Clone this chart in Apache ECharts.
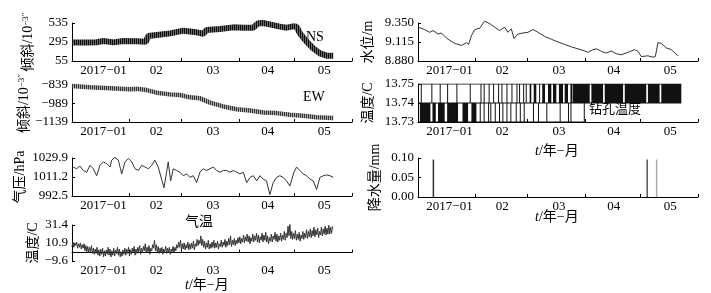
<!DOCTYPE html>
<html>
<head>
<meta charset="utf-8">
<script src="https://cdn.jsdelivr.net/npm/echarts@6/dist/echarts.min.js"></script>
<style>
  html, body { margin: 0; padding: 0; background: #fff; }
  #chart { width: 711px; height: 293px; }
</style>
</head>
<body>
<div id="chart"></div>
<script>
// x is days since 2017-01-01
const monthLabels = ['2017−01', '02', '03', '04', '05']
const monthLabelDays = [17, 45.5, 76, 105.5, 136]
const monthTickDays = [31, 59, 90, 120, 151]

// tilt NS (10^-3 ″)
const nsDays = [0, 7.9, 13.3, 16.9, 22.3, 27.7, 34.9, 39.9, 41.1, 45.6, 52.9, 60, 67.2, 70.8, 72.6, 79.8, 87, 92.3, 97.7, 100.4, 103.1, 106.7, 112.1, 115.7, 119.3, 121.1, 122.9, 126.5, 130.1, 133.7, 137.3, 140.9]
const nsValues = [290, 290, 292, 307, 290, 307, 303, 299, 370, 383, 404, 438, 417, 400, 446, 459, 480, 476, 476, 531, 535, 518, 489, 476, 493, 489, 404, 299, 215, 152, 122, 122]
const nsTicks = [55, 295, 535]

// tilt EW
const ewDays = [0, 9.7, 20.5, 31.3, 34.9, 40.3, 45.6, 52.8, 58.2, 63.6, 69, 74.4, 81.6, 88.8, 96, 103.1, 110.3, 117.5, 124.7, 131.9, 140.9]
const ewValues = [-847, -858, -866, -874, -870, -880, -901, -915, -920, -939, -947, -982, -1013, -1035, -1046, -1062, -1067, -1081, -1089, -1100, -1107]
const ewTicks = [-1139, -989, -839]

// air pressure (hPa)
const presDays = [0.7, 2.5, 4.3, 6.1, 7.9, 9.7, 11.5, 13.3, 15.1, 16.9, 18.7, 20.5, 21.4, 23.2, 25, 26.8, 28.6, 30.4, 32.2, 34, 35.8, 37.6, 39.4, 41.2, 43, 44.7, 46.5, 48.3, 49.6, 51, 51.9, 53.2, 54.6, 56.4, 58.2, 60, 61.8, 63.6, 65.4, 67.2, 69, 70.8, 72.6, 74.4, 76.2, 78, 79.8, 81.6, 83.4, 85.2, 87, 88.8, 90.6, 92.4, 94.2, 96, 97.8, 99.6, 101.4, 103.1, 104.9, 106.7, 108.5, 110.3, 112.1, 113.9, 115.7, 117.5, 118.4, 119.7, 121.1, 122.9, 124.7, 126.5, 128.3, 130.1, 131.9, 133.7, 135.5, 137.3, 139.1, 140.9]
const presValues = [1021.0, 1019.3, 1022.0, 1017.6, 1015.9, 1022.7, 1019.3, 1012.5, 1022.7, 1026.1, 1024.4, 1021.0, 1027.8, 1030.5, 1027.8, 1014.2, 1026.1, 1029.5, 1026.1, 1019.3, 1017.6, 1022.7, 1021.0, 1019.3, 1022.7, 1027.8, 1021.0, 1009.1, 1000.6, 1015.9, 1026.1, 1007.4, 1019.3, 1017.6, 1015.9, 1012.5, 1014.2, 1010.8, 1012.5, 1005.7, 1015.9, 1019.3, 1017.6, 1019.3, 1021.0, 1017.6, 1015.9, 1017.6, 1017.6, 1015.9, 1017.6, 1015.9, 1014.2, 1015.9, 1005.7, 1010.8, 1012.5, 1007.4, 1012.5, 1009.1, 1007.4, 993.8, 1005.7, 1010.8, 1012.5, 1010.8, 1007.4, 1002.3, 1000.6, 1015.9, 1021.0, 1017.6, 1014.2, 1012.5, 1009.1, 1007.4, 998.9, 1010.8, 1012.5, 1013.2, 1012.5, 1010.8]
const presTicks = [992.5, 1011.2, 1029.9]

// air temperature (C): daily low and high, from day 0
const tempLow = [7, 6, 8, 5, 6, 4, 5, 2, 1, 0, 1, -1, -2, -1, -3, -4, -2, -5, -4, -2, -3, -5, -3, -4, -1, -3, -5, -4, -2, -3, -1, -4, -2, 0, -3, -1, 1, -2, 0, 2, 0, 1, -2, 2, 5, 2, 0, -1, 0, -2, 0, -1, 0, -2, 1, 0, 2, 5, 6, 3, 4, 3, 5, 3, 4, 5, 3, 7, 8, 10, 8, 6, 4, 6, 4, 5, 6, 5, 6, 4, 7, 6, 8, 6, 8, 9, 7, 9, 8, 10, 11, 10, 12, 11, 13, 12, 10, 13, 12, 14, 12, 11, 14, 12, 14, 12, 10, 13, 12, 15, 13, 12, 14, 13, 15, 14, 17, 19, 16, 15, 16, 14, 15, 13, 16, 15, 17, 16, 18, 17, 19, 18, 20, 17, 20, 19, 21, 20, 21, 21, 22]
const tempHigh = [12, 11, 12, 10, 11, 9, 10, 8, 7, 6, 8, 5, 4, 6, 3, 4, 5, 2, 3, 6, 4, 2, 5, 3, 6, 4, 1, 3, 5, 4, 6, 3, 5, 7, 4, 6, 8, 5, 7, 10, 6, 8, 5, 9, 14, 9, 7, 5, 6, 4, 7, 5, 6, 4, 7, 6, 9, 12, 14, 10, 11, 9, 12, 10, 11, 13, 10, 15, 14, 19, 15, 13, 11, 14, 10, 12, 14, 11, 13, 10, 14, 12, 15, 13, 16, 19, 14, 16, 14, 17, 18, 16, 20, 18, 21, 19, 17, 21, 19, 22, 20, 18, 22, 20, 23, 19, 17, 21, 19, 23, 21, 19, 22, 20, 24, 22, 30, 33, 24, 22, 25, 21, 23, 20, 24, 22, 26, 24, 27, 25, 29, 26, 28, 24, 29, 27, 30, 28, 31, 29, 30]
const tempTicks = [-9.6, 10.9, 31.4]

// water level (m)
const waterDays = [0, 3.6, 6.3, 8.1, 10.8, 12.6, 14.4, 16.2, 19.8, 23.4, 26.1, 27.3, 28.8, 30.6, 33.3, 35.9, 38.7, 41.3, 44, 46.7, 48.5, 50.3, 51.8, 53.9, 56.6, 59.3, 62, 64.7, 68.3, 71.9, 75.5, 79.1, 82.7, 86.3, 89, 91.7, 94.4, 96.2, 98.9, 101.5, 104.2, 106.9, 109.6, 113.2, 116.8, 118.6, 120.4, 124, 126.7, 128, 129.4, 131.2, 133.9, 136.6, 140.2]
const waterValues = [9.299, 9.269, 9.235, 9.256, 9.214, 9.226, 9.184, 9.149, 9.098, 9.072, 9.107, 9.085, 9.192, 9.269, 9.286, 9.372, 9.342, 9.299, 9.256, 9.299, 9.235, 9.278, 9.158, 9.214, 9.226, 9.235, 9.269, 9.235, 9.184, 9.149, 9.115, 9.085, 9.055, 9.03, 9.012, 8.987, 9.021, 9.03, 8.999, 8.978, 9.004, 8.97, 8.957, 8.987, 9.021, 8.999, 8.935, 8.944, 8.927, 8.935, 9.107, 9.098, 9.042, 9.021, 8.944]
const waterTicks = [8.88, 9.115, 9.35]

// borehole temperature (C): runs of days spent at each reading
const boreLevels = [13.73, 13.74, 13.75]
const boreLevelEnd = [89.4, 142, 142]
const boreLowRuns = [[1, 6.7], [7.8, 9.6], [10.8, 14.4], [15.7, 21.6], [24, 27], [28.8, 31.5], [33.3, 33.3], [35.4, 35.4], [37.8, 37.8], [39, 39], [41.4, 41.4], [43.7, 43.7], [45.5, 45.5], [47.7, 47.7], [49.8, 49.8], [52.7, 52.7], [54.9, 54.9], [57, 57], [62, 62], [64.7, 64.7], [69.2, 69.2], [76.4, 76.4], [80.9, 80.9], [82.2, 82.2], [89.4, 89.4]]
const boreHighRuns = [[1.5, 1.5], [7.2, 7.2], [11.7, 11.7], [15.7, 15.7], [20.7, 20.7], [27.9, 27.9], [33.7, 33.7], [35.4, 35.4], [38.1, 38.1], [40.5, 40.5], [43.2, 43.2], [45, 45], [47.7, 47.7], [50.4, 50.4], [53.1, 53.1], [54.5, 54.5], [56.7, 56.7], [58.1, 58.1], [60.2, 61.1], [62.4, 63.8], [65.3, 65.3], [67, 68.5], [70.1, 71.9], [72.8, 74.6], [76, 78.2], [79.1, 80.9], [82.2, 83.3], [83.6, 92.6], [93.5, 99.8], [100.7, 110.6], [111.5, 123.1], [124, 130.3], [131.2, 142]]

// precipitation (mm)
const rainDays = [8.3, 123.6, 128.7]
const rainValues = [0.096, 0.096, 0.096]
const rainColors = ['#333', '#555', '#aaa']
const rainTicks = [0, 0.05, 0.1]

const numFont = "'Liberation Serif', 'Times New Roman', serif"
const cnFont = "'Liberation Serif', 'Noto Sans CJK SC', serif"

const grids = [
  { left: 72, top: 23, width: 280, height: 38 },
  { left: 72, top: 85, width: 280, height: 37 },
  { left: 72, top: 158, width: 280, height: 38 },
  { left: 72, top: 225, width: 280, height: 36 },
  { left: 418, top: 23, width: 280, height: 38 },
  { left: 418, top: 84, width: 280, height: 38 },
  { left: 418, top: 158, width: 280, height: 39 }
]

const minus = (s) => s.replace('-', '−')

// vertical hatch used for the thick tilt bands
function hatch(dark, light) {
  const c = document.createElement('canvas')
  c.width = 2
  c.height = 2
  const ctx = c.getContext('2d')
  ctx.fillStyle = light
  ctx.fillRect(0, 0, 2, 2)
  ctx.fillStyle = dark
  ctx.fillRect(0, 0, 1, 2)
  return { image: c, repeat: 'repeat' }
}

function xAxisFor(i) {
  return {
    type: 'value', gridIndex: i, min: 0, max: 151,
    axisLine: { lineStyle: { color: '#000', width: 1 } },
    axisTick: { inside: true, length: 3, customValues: monthTickDays, lineStyle: { color: '#000' } },
    axisLabel: {
      customValues: monthLabelDays,
      formatter: (v) => monthLabels[monthLabelDays.indexOf(v)],
      color: '#000', fontSize: 13, fontFamily: numFont, margin: 3
    },
    splitLine: { show: false }
  }
}

function yAxisFor(i, ticks, digits, name, gap, rich) {
  return {
    type: 'value', gridIndex: i, min: ticks[0], max: ticks[ticks.length - 1],
    axisLine: { show: true, lineStyle: { color: '#000', width: 1 } },
    axisTick: { show: true, inside: true, length: 3, customValues: ticks, lineStyle: { color: '#000' } },
    axisLabel: {
      customValues: ticks,
      formatter: (v) => minus(v.toFixed(digits)),
      color: '#000', fontSize: 13, fontFamily: numFont, margin: 4
    },
    splitLine: { show: false },
    name: name, nameLocation: 'middle', nameRotate: 90, nameGap: gap,
    nameTextStyle: { color: '#000', fontSize: 14, fontFamily: cnFont, rich: rich }
  }
}

const supRich = {
  sup: { fontSize: 9, fontFamily: numFont, color: '#000', verticalAlign: 'top', padding: [0, 0, 6, 0] }
}

const pairs = (xs, ys) => xs.map((x, i) => [x, ys[i]])

// daily low in the night, high in the afternoon
const tempData = []
tempLow.forEach((lo, i) => {
  tempData.push([i, lo])
  tempData.push([i + 0.5, tempHigh[i]])
})

function runItem(params, api) {
  const a = api.coord([api.value(0), api.value(3)])
  const b = api.coord([api.value(1), api.value(2)])
  return {
    type: 'rect',
    shape: { x: a[0], y: a[1], width: Math.max(1, b[0] - a[0]), height: b[1] - a[1] },
    style: { fill: '#111' }
  }
}

const chart = echarts.init(document.getElementById('chart'))

const option = {
  animation: false,
  backgroundColor: '#fff',
  grid: grids,
  xAxis: grids.map((g, i) => xAxisFor(i)),
  yAxis: [
    yAxisFor(0, nsTicks, 0, '倾斜/10{sup|−3″}', 36, supRich),
    yAxisFor(1, ewTicks, 0, '倾斜/10{sup|−3″}', 38, supRich),
    yAxisFor(2, presTicks, 1, '气压/hPa', 45),
    yAxisFor(3, tempTicks, 1, '温度/C', 30),
    yAxisFor(4, waterTicks, 3, '水位/m', 43),
    yAxisFor(5, boreLevels, 2, '温度/C', 43),
    yAxisFor(6, rainTicks, 2, '降水量/mm', 36)
  ],
  series: [
    {
      type: 'line', xAxisIndex: 0, yAxisIndex: 0, data: pairs(nsDays, nsValues),
      showSymbol: false, clip: false, lineStyle: { color: hatch('#0d0d0d', '#6a6a6a'), width: 6 }
    },
    {
      type: 'line', xAxisIndex: 1, yAxisIndex: 1, data: pairs(ewDays, ewValues),
      showSymbol: false, lineStyle: { color: hatch('#333', '#aaa'), width: 4.5 }
    },
    {
      type: 'line', xAxisIndex: 2, yAxisIndex: 2, data: pairs(presDays, presValues),
      showSymbol: false, clip: false, lineStyle: { color: '#333', width: 1 }
    },
    {
      type: 'line', xAxisIndex: 3, yAxisIndex: 3, data: tempData,
      showSymbol: false, lineStyle: { color: '#333', width: 1 }
    },
    {
      type: 'line', xAxisIndex: 4, yAxisIndex: 4, data: pairs(waterDays, waterValues),
      showSymbol: false, clip: false, lineStyle: { color: '#333', width: 1 }
    },
    {
      type: 'custom', xAxisIndex: 5, yAxisIndex: 5, renderItem: runItem,
      encode: { x: [0, 1], y: [2, 3] },
      data: boreLowRuns.map((r) => [r[0], r[1], boreLevels[0], boreLevels[1]])
    },
    {
      type: 'custom', xAxisIndex: 5, yAxisIndex: 5, renderItem: runItem,
      encode: { x: [0, 1], y: [2, 3] },
      data: boreHighRuns.map((r) => [r[0], r[1], boreLevels[1], boreLevels[2]])
    },
    ...boreLevels.map((lvl, i) => ({
      type: 'line', xAxisIndex: 5, yAxisIndex: 5, data: [[0, lvl], [boreLevelEnd[i], lvl]],
      showSymbol: false, lineStyle: { color: '#111', width: 1 }
    })),
    {
      type: 'bar', xAxisIndex: 6, yAxisIndex: 6, barWidth: 1.5,
      data: rainDays.map((d, i) => ({ value: [d, rainValues[i]], itemStyle: { color: rainColors[i] } }))
    }
  ],
  graphic: [
    { type: 'text', left: 306, top: 30, style: { text: 'NS', fontSize: 14, fontFamily: numFont, fill: '#000' } },
    { type: 'text', left: 303, top: 90, style: { text: 'EW', fontSize: 14, fontFamily: numFont, fill: '#000' } },
    { type: 'text', left: 185, top: 215, style: { text: '气温', fontSize: 14, fontFamily: cnFont, fill: '#000' } },
    { type: 'text', left: 589, top: 103, style: { text: '钻孔温度', fontSize: 13, fontFamily: cnFont, fill: '#000' } },
    {
      type: 'text', left: 185, top: 278,
      style: { text: '{i|t}/年−月', fontSize: 14, fontFamily: cnFont, fill: '#000', rich: { i: { fontStyle: 'italic', fontSize: 14, fontFamily: numFont } } }
    },
    {
      type: 'text', left: 535, top: 144,
      style: { text: '{i|t}/年−月', fontSize: 14, fontFamily: cnFont, fill: '#000', rich: { i: { fontStyle: 'italic', fontSize: 14, fontFamily: numFont } } }
    },
    {
      type: 'text', left: 535, top: 210,
      style: { text: '{i|t}/年−月', fontSize: 14, fontFamily: cnFont, fill: '#000', rich: { i: { fontStyle: 'italic', fontSize: 14, fontFamily: numFont } } }
    }
  ]
}

chart.setOption(option)
</script>
</body>
</html>
